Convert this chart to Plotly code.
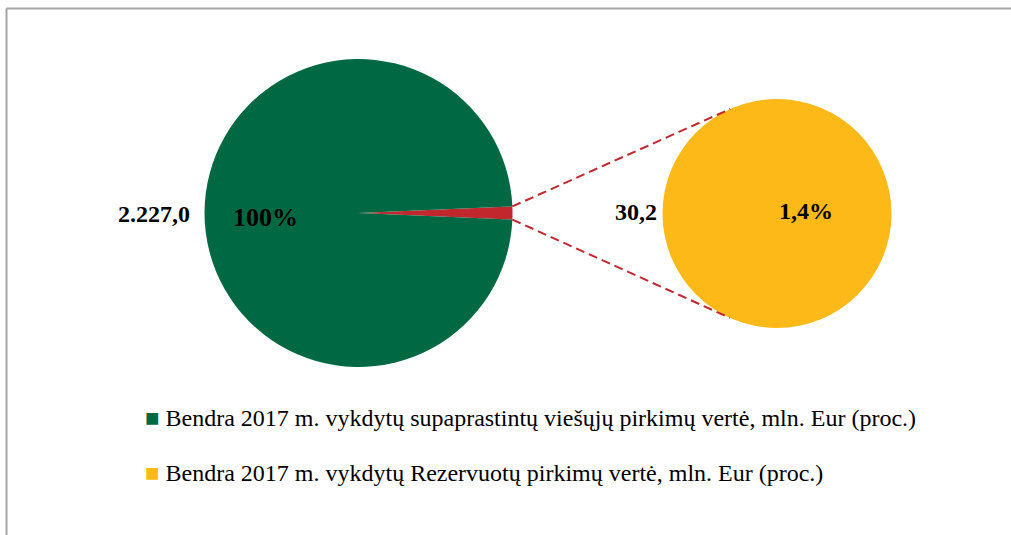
import math
import plotly.graph_objects as go

# ---- data ----
labels = [
    "Bendra 2017 m. vykdytų supaprastintų viešųjų pirkimų vertė, mln. Eur (proc.)",
    "Bendra 2017 m. vykdytų Rezervuotų pirkimų vertė, mln. Eur (proc.)",
]
total_value = 2227.0          # mln. Eur, all simplified procurements
reserved_value = 30.2         # mln. Eur, reserved procurements
total_label = "2.227,0"
total_pct_label = "100%"
reserved_label = "30,2"
reserved_pct_label = "1,4%"

# ---- style ----
GREEN = "#006944"
RED = "#C1272D"
YELLOW = "#FCB917"
FONT = "Liberation Serif"
W, H = 1011, 535

def px(x):
    return x / W

def py(y):
    return 1 - y / H

# geometry (pixels)
big_c, big_r = (358.5, 213.0), 154.0
small_c, small_r = (777.0, 213.5), 114.5

frac = reserved_value / total_value
half = frac * 360 / 2

fig = go.Figure()

fig.add_trace(go.Pie(
    values=[reserved_value, total_value - reserved_value],
    labels=[labels[1] + " ", labels[0]],
    marker=dict(colors=[RED, GREEN], line=dict(width=0)),
    sort=False, direction="clockwise", rotation=90 - half,
    textinfo="none", hoverinfo="label+value", showlegend=False,
    domain=dict(x=[px(big_c[0] - big_r), px(big_c[0] + big_r)],
                y=[py(big_c[1] + big_r), py(big_c[1] - big_r)]),
))

fig.add_trace(go.Pie(
    values=[reserved_value],
    labels=[labels[1]],
    marker=dict(colors=[YELLOW], line=dict(width=0)),
    sort=False, textinfo="none", hoverinfo="label+value", showlegend=False,
    domain=dict(x=[px(small_c[0] - small_r), px(small_c[0] + small_r)],
                y=[py(small_c[1] + small_r), py(small_c[1] - small_r)]),
))

# connector lines: from slice edges to tangent points of the second pie
shapes = []
for sign in (1, -1):
    a = math.radians(sign * half)
    P = (big_c[0] + big_r * math.cos(a), big_c[1] - big_r * math.sin(a))
    dx, dy = P[0] - small_c[0], P[1] - small_c[1]
    dist = math.hypot(dx, dy)
    alpha = math.atan2(dy, dx)
    beta = math.acos(small_r / dist)
    cands = [(small_c[0] + small_r * math.cos(alpha + s * beta),
              small_c[1] + small_r * math.sin(alpha + s * beta)) for s in (1, -1)]
    T = min(cands, key=lambda t: t[1]) if sign == 1 else max(cands, key=lambda t: t[1])
    shapes.append(dict(type="line", xref="paper", yref="paper",
                       x0=px(P[0]), y0=py(P[1]), x1=px(T[0]), y1=py(T[1]),
                       line=dict(color=RED, width=2, dash="9px,5px"), layer="above"))

# outer frame (only top and left edges visible)
shapes.append(dict(type="line", xref="paper", yref="paper", x0=px(6.5), y0=py(8.5), x1=1.01, y1=py(8.5),
                   line=dict(color="#A6A6A6", width=2)))
shapes.append(dict(type="line", xref="paper", yref="paper", x0=px(6.5), y0=py(8.5), x1=px(6.5), y1=-0.01,
                   line=dict(color="#A6A6A6", width=2)))

ann = []
def add_text(text, x, y, size, bold=True, xanchor="center"):
    ann.append(dict(text=f"<b>{text}</b>" if bold else text, x=px(x), y=py(y), xref="paper", yref="paper",
                    xanchor=xanchor, yanchor="middle", showarrow=False,
                    font=dict(family=FONT, size=size, color="black")))

add_text(total_label, 153.5, 214, 24)
add_text(total_pct_label, 265, 217.5, 26)
add_text(reserved_label, 636, 212, 24)
add_text(reserved_pct_label, 806, 211, 24)

# legend (square swatch glyph + label)
for lab, col, yy in [(labels[0], GREEN, 417.5), (labels[1], YELLOW, 472.5)]:
    ann.append(dict(text=f'<span style="color:{col}">■</span> {lab}', x=px(143), y=py(yy),
                    xref="paper", yref="paper", xanchor="left", yanchor="middle", showarrow=False,
                    font=dict(family=FONT, size=24, color="black")))

fig.update_layout(
    width=W, height=H, autosize=False,
    margin=dict(l=0, r=0, t=0, b=0),
    paper_bgcolor="white", plot_bgcolor="white",
    shapes=shapes, annotations=ann, showlegend=False,
)

fig.write_html("out.html", config={"displayModeBar": False},
               post_script="document.body.style.margin='0';document.body.style.overflow='hidden';")
